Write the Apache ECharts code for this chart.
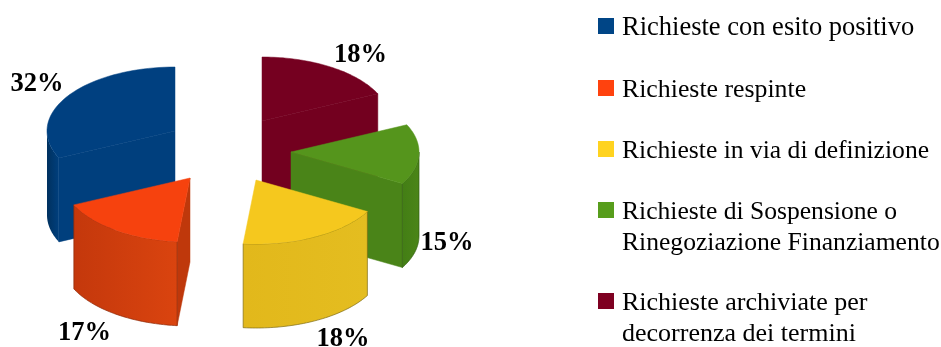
<!DOCTYPE html>
<html>
<head>
<meta charset="utf-8">
<style>html,body{margin:0;padding:0;background:#fff}#c{width:941px;height:347px}</style>
<script src="https://cdn.jsdelivr.net/npm/echarts@6/dist/echarts.min.js"></script>
</head>
<body>
<div id="c"></div>
<script>
// ---- data ----
const categories = [
  'Richieste con esito positivo',
  'Richieste respinte',
  'Richieste in via di definizione',
  'Richieste di Sospensione o\nRinegoziazione Finanziamento',
  'Richieste archiviate per\ndecorrenza dei termini'
];
const values = [31.9, 16.5, 18.4, 15.2, 18];

// ---- styles and layout ----
const topColors  = ['#004080', '#f6420e', '#f5c81e', '#55951c', '#750020'];
const faceColors = ['#003f7d', '#bf380b', '#e0b81c', '#4a8418', '#73001f'];
const wallLeft   = ['#00315f', '#c4380c', '#e2b81b', '#437e15', '#73001f'];
const wallRight  = ['#003f7d', '#da440f', '#e4bd20', '#4b8518', '#73001f'];
const wallStroke = [null, '#8c2a08', '#7d6a14', '#2f5c0e', null];
const legendColors = ['#004586', '#ff420e', '#ffd320', '#579d1c', '#7e0021'];
const centers = [[175, 131], [190, 178], [256, 180], [291, 152], [262, 121]];
const labelPos = [[37, 84.5], [84.5, 333.5], [343, 339.5], [447, 243.5], [360.5, 55.5]];
const zOrder = [1, 5, 4, 3, 2];
const legendTop = [12.5, 74.5, 135.5, 196.5, 287.5];
const legendFontSize = [26.5, 25.8, 25.6, 25.6, 26];
const rx = 128, ry = 64, depth = 84;
const fontName = '"Liberation Serif", "Times New Roman", serif';

const total = values.reduce((a, b) => a + b, 0);
const rad = d => d * Math.PI / 180;

function pt(c, deg, dz) {
  return [c[0] - Math.sin(rad(deg)) * rx, c[1] - Math.cos(rad(deg)) * ry + dz];
}
function arc(c, a0, a1, dz) {
  const out = [], n = 48;
  for (let i = 0; i <= n; i++) out.push(pt(c, a0 + (a1 - a0) * i / n, dz));
  return out;
}
function poly(points, fill) {
  return { type: 'polygon', shape: { points }, style: { fill, stroke: fill, lineWidth: 0.5 } };
}

function makeRender(idx) {
  return function (params, api) {
    const v = api.value(0);
    const before = values.slice(0, idx).reduce((a, b) => a + b, 0);
    const a0 = before / total * 360;
    const a1 = a0 + v / total * 360;
    const c = centers[idx];
    const children = [];
    const sideFace = deg => {
      const p = pt(c, deg, 0), q = pt(c, deg, depth);
      children.push(poly([[c[0], c[1]], p, q, [c[0], c[1] + depth]], faceColors[idx]));
    };
    if (Math.sin(rad(a0)) < -1e-6) sideFace(a0);
    if (Math.sin(rad(a1)) > 1e-6) sideFace(a1);
    const w0 = Math.max(a0, 90), w1 = Math.min(a1, 270);
    if (w1 > w0) {
      const t = arc(c, w0, w1, 0), b = arc(c, w0, w1, depth).reverse();
      const wall = poly(t.concat(b), '#000');
      wall.style.fill = new echarts.graphic.LinearGradient(0, 0, 1, 0, [
        { offset: 0, color: wallLeft[idx] }, { offset: 1, color: wallRight[idx] }
      ]);
      wall.style.stroke = wallStroke[idx];
      wall.style.lineWidth = 0.7;
      children.push(wall);
    }
    children.push(poly([[c[0], c[1]]].concat(arc(c, a0, a1, 0)), topColors[idx]));
    children.push({
      type: 'text',
      style: {
        x: labelPos[idx][0], y: labelPos[idx][1], text: Math.round(v) + '%',
        fill: '#000', font: 'bold 26.5px ' + fontName,
        textAlign: 'center', textVerticalAlign: 'middle'
      }
    });
    return { type: 'group', children };
  };
}

const swatch = h => 'path://M0 0H16V16H0ZM19 ' + h + 'L19 ' + h;

const chart = echarts.init(document.getElementById('c'), null, { renderer: 'canvas' });
chart.setOption({
  animation: false,
  backgroundColor: '#fff',
  legend: categories.map((name, i) => {
    const two = name.indexOf('\n') >= 0;
    const iconH = two ? 51 : 20;
    return {
      data: [{ name, icon: swatch(iconH) }],
      left: 598, top: legendTop[i],
      padding: 0,
      itemWidth: 19, itemHeight: iconH,
      selectedMode: false,
      textStyle: { fontFamily: fontName, fontSize: legendFontSize[i], color: '#000', lineHeight: 31 }
    };
  }),
  series: categories.map((name, i) => ({
    type: 'custom',
    name,
    coordinateSystem: 'none',
    z: zOrder[i],
    silent: true,
    clip: false,
    itemStyle: { color: legendColors[i] },
    data: [[values[i]]],
    renderItem: makeRender(i)
  }))
});
</script>
</body>
</html>
